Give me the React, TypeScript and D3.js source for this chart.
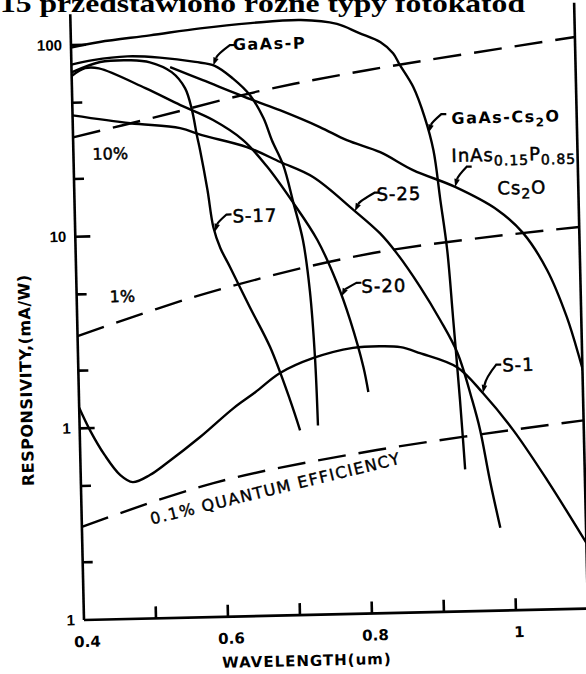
import React from "react"
import * as d3 from "d3"

type Pt = [number, number] // [wavelength um, responsivity mA/W]

const gaAsCs2O: Pt[] = [
  [0.4, 97], [0.44, 103], [0.51, 110], [0.58, 118], [0.65, 124], [0.72, 127],
  [0.77, 120], [0.8, 107], [0.83, 95], [0.847, 83], [0.856, 72], [0.874, 55],
  [0.889, 38], [0.9, 25.6], [0.908, 14.1], [0.916, 7.7], [0.922, 3.4],
  [0.929, 1.27], [0.932, 0.78], [0.934, 0.55],
]
const gaAsP: Pt[] = [
  [0.4, 79], [0.43, 83], [0.478, 86], [0.523, 84], [0.572, 79], [0.599, 75],
  [0.624, 64], [0.647, 52.2], [0.665, 39.5], [0.676, 30.2], [0.691, 22.3],
  [0.704, 14.1], [0.716, 9.0], [0.724, 4.9], [0.729, 2.2], [0.731, 0.97],
]
const s17: Pt[] = [
  [0.4, 72], [0.44, 81], [0.482, 82], [0.509, 79.6], [0.539, 70.3], [0.557, 57.8],
  [0.566, 44.3], [0.572, 32.7], [0.576, 27.3], [0.585, 16.9], [0.592, 10.8],
  [0.601, 8.4], [0.614, 6.65], [0.64, 4.1], [0.667, 2.52], [0.693, 1.33], [0.706, 0.92],
]
const s20: Pt[] = [
  [0.4, 69], [0.419, 75.5], [0.438, 75], [0.502, 58.4], [0.55, 47.2], [0.595, 39.1],
  [0.636, 30.5], [0.669, 21.9], [0.704, 14.1], [0.736, 9.0], [0.762, 5.33],
  [0.779, 3.41], [0.796, 1.93], [0.802, 1.43],
]
const s25: Pt[] = [
  [0.4, 43], [0.48, 38.5], [0.549, 35.8], [0.579, 32.7], [0.641, 28], [0.687, 23.2],
  [0.732, 19.2], [0.787, 12.8], [0.823, 9.6], [0.846, 7.5], [0.877, 5.0], [0.904, 3.33],
  [0.927, 2.23], [0.946, 1.26], [0.956, 0.88], [0.968, 0.48], [0.981, 0.27],
]
const inAsP: Pt[] = [
  [0.537, 74.7], [0.582, 63.3], [0.651, 49.1], [0.688, 43.2], [0.743, 34.9], [0.78, 29.6],
  [0.826, 25.4], [0.871, 20.3], [0.929, 16.4], [0.987, 12.3], [1.022, 9.24], [1.054, 5.9],
  [1.08, 3.33], [1.097, 1.98], [1.105, 1.5],
]
const s1: Pt[] = [
  [0.4, 1.28], [0.414, 0.98], [0.434, 0.72], [0.455, 0.564], [0.472, 0.517], [0.496, 0.56],
  [0.52, 0.644], [0.567, 0.872], [0.614, 1.22], [0.645, 1.47], [0.68, 1.84], [0.726, 2.18],
  [0.782, 2.44], [0.82, 2.47], [0.848, 2.43], [0.875, 2.25], [0.926, 1.88], [0.961, 1.37],
  [1.002, 0.87], [1.048, 0.47], [1.1, 0.22],
]

// quantum efficiency reference lines
const qe10: Pt[] = [[0.4, 33], [0.51, 40.7], [0.66, 54.6], [0.81, 68.2], [1.1, 96]]
const qe1: Pt[] = [[0.4, 3.03], [0.581, 4.9], [0.813, 7.58], [1.1, 9.8]]
const qe01: Pt[] = [[0.4, 0.306], [0.584, 0.5], [0.812, 0.711], [1.1, 0.96]]

const xLabelTicks = [0.4, 0.6, 0.8, 1.0]
const xLabels = ["0.4", "0.6", "0.8", "1"]
const xMinorTicks = [0.5, 0.6, 0.7, 0.8, 0.9, 1.0]
const yMajorTicks = [0.1, 1, 10, 100]
const yLabels = ["1", "1", "10", "100"]
const yMinorTicks = [0.2, 0.5, 2, 5, 20, 50]

const W = 586
const H = 674
const tilt = -1.3

const x = d3.scaleLinear().domain([0.4, 1.1]).range([84, 588])
const y = d3.scaleLog().domain([0.1, 145]).range([620, 14])

const line = d3
  .line<Pt>()
  .x(d => x(d[0]))
  .y(d => y(d[1]))
  .curve(d3.curveCatmullRom.alpha(0.5))

function valueAt(series: Pt[], lam: number) {
  for (let i = 0; i < series.length - 1; i++) {
    const a = series[i]
    const b = series[i + 1]
    if (lam >= a[0] && lam <= b[0]) {
      const t = (lam - a[0]) / (b[0] - a[0])
      return Math.exp(Math.log(a[1]) + t * (Math.log(b[1]) - Math.log(a[1])))
    }
  }
  return series[series.length - 1][1]
}

type Seg = [string, boolean]
const leaders: { series: Pt[]; at: number; ex: number; ey: number; dx: number; dy: number; label: Seg[]; bold: boolean }[] = [
  { series: gaAsP, at: 0.597, ex: 17, ey: -20, dx: 20, dy: -15, label: [["GaAs-P", false]], bold: true },
  { series: gaAsCs2O, at: 0.894, ex: 13, ey: -18, dx: 23, dy: -8, label: [["GaAs-Cs", false], ["2", true], ["O", false]], bold: true },
  { series: inAsP, at: 0.929, ex: 12, ey: -20, dx: -3, dy: -25, label: [["InAs", false], ["0.15", true], ["P", false], ["0.85", true]], bold: false },
  { series: s25, at: 0.789, ex: 20, ey: -18, dx: 22, dy: -10, label: [["S-25", false]], bold: false },
  { series: s20, at: 0.768, ex: 15, ey: -13, dx: 20, dy: -3, label: [["S-20", false]], bold: false },
  { series: s17, at: 0.594, ex: 12, ey: -17, dx: 18, dy: -9, label: [["S-17", false]], bold: false },
  { series: s1, at: 0.961, ex: 14, ey: -28, dx: 20, dy: -21, label: [["S-1", false]], bold: false },
]

function Leader(props: { tx: number; ty: number; ex: number; ey: number }) {
  const { tx, ty, ex, ey } = props
  const E = [tx + ex, ty + ey]
  const C = [tx + 0.25 * ex, ty + 0.55 * ey]
  let dx = tx - C[0]
  let dy = ty - C[1]
  const len = Math.hypot(dx, dy)
  dx /= len
  dy /= len
  const bx = tx - 8 * dx
  const by = ty - 8 * dy
  const head = `M${tx},${ty}L${bx - 2.8 * dy},${by + 2.8 * dx}L${bx + 2.8 * dy},${by - 2.8 * dx}Z`
  return (
    <g>
      <path
        d={`M${E[0] + 5},${E[1]}L${E[0]},${E[1]}Q${C[0]},${C[1]} ${bx},${by}`}
        fill="none"
        stroke="#000"
        strokeWidth={2.2}
      />
      <path d={head} fill="#000" />
    </g>
  )
}

const font = "DejaVu Sans, sans-serif"

export default function App() {
  const curves = [gaAsCs2O, gaAsP, s17, s20, s25, inAsP, s1]
  const dashes = [qe10, qe1, qe01]
  return (
    <svg width={W} height={H} style={{ position: "absolute", left: 0, top: 0, background: "#fff" }}>
      <text
        x={0}
        y={12}
        fontFamily="Liberation Serif, serif"
        fontSize={26}
        fontWeight="bold"
        textLength={525}
        lengthAdjust="spacingAndGlyphs"
      >
        15 przedstawiono różne typy fotokatod
      </text>
      <defs>
        <clipPath id="plot">
          <rect x={x(0.4)} y={0} width={x(1.1) - x(0.4)} height={y(0.1)} />
        </clipPath>
      </defs>
      <g transform={`rotate(${tilt} ${x(0.4)} ${y(0.1)})`}>
        {/* frame */}
        <g stroke="#000" strokeWidth={2.6} fill="none">
          <line x1={x(0.4)} x2={x(0.4)} y1={y(0.1)} y2={y(145)} />
          <line x1={x(0.4)} x2={x(1.1)} y1={y(0.1)} y2={y(0.1)} />
          <line x1={x(1.1)} x2={x(1.1)} y1={y(0.1)} y2={y(145)} />
          {yMajorTicks.slice(1).map(v => (
            <line key={v} x1={x(0.4)} x2={x(0.4) + 15} y1={y(v)} y2={y(v)} />
          ))}
          {yMinorTicks.map(v => (
            <line key={v} x1={x(0.4)} x2={x(0.4) + 10} y1={y(v)} y2={y(v)} />
          ))}
          {xMinorTicks.map(v => (
            <line key={v} x1={x(v)} x2={x(v)} y1={y(0.1)} y2={y(0.1) - 12} />
          ))}
        </g>
        {/* tick labels */}
        {yMajorTicks.map((v, i) => (
          <text
            key={v}
            x={x(0.4) - 9}
            y={y(v) + 5}
            textAnchor="end"
            fontFamily="Liberation Sans, sans-serif"
            fontWeight="bold"
            fontSize={15}
          >
            {yLabels[i]}
          </text>
        ))}
        {xLabelTicks.map((v, i) => (
          <text
            key={v}
            x={x(v) + 3}
            y={y(0.1) + 27}
            textAnchor="middle"
            fontFamily={font}
            fontWeight="bold"
            fontSize={15}
          >
            {xLabels[i]}
          </text>
        ))}
        <g clipPath="url(#plot)" fill="none" stroke="#000">
          {dashes.map((d, i) => (
            <path key={i} d={line(d) || ""} strokeWidth={2.4} strokeDasharray="28 13" />
          ))}
          {curves.map((d, i) => (
            <path key={i} d={line(d) || ""} strokeWidth={2.4} />
          ))}
        </g>
        {leaders.map((l, i) => {
          const tx = x(l.at)
          const ty = y(valueAt(l.series, l.at))
          return (
            <g key={i}>
              <Leader tx={tx} ty={ty} ex={l.ex} ey={l.ey} />
              <text
                x={tx + l.dx}
                y={ty + l.dy}
                fontFamily={font}
                fontWeight={l.bold ? "bold" : "normal"}
                fontSize={l.bold ? 16 : 18}
                letterSpacing={l.bold ? 1.5 : 1}
                stroke="#000"
                strokeWidth={l.bold ? 0 : 0.5}
              >
                {l.label.map((s, j) =>
                  s[1] ? (
                    <tspan key={j} dy={4.5} fontSize={l.bold ? 12 : 14}>
                      {s[0]}
                    </tspan>
                  ) : (
                    <tspan key={j} dy={j > 0 ? -4.5 : 0}>
                      {s[0]}
                    </tspan>
                  )
                )}
              </text>
            </g>
          )
        })}
        <text x={507} y={204} fontFamily={font} fontSize={18} letterSpacing={1} stroke="#000" strokeWidth={0.5}>
          Cs<tspan dy={4.5} fontSize={14}>2</tspan>
          <tspan dy={-4.5}>O</tspan>
        </text>
        <text x={103} y={160} fontFamily={font} fontSize={16} stroke="#000" strokeWidth={0.5}>
          10%
        </text>
        <text x={117} y={303} fontFamily={font} fontSize={16} stroke="#000" strokeWidth={0.5}>
          1%
        </text>
        <text
          transform="translate(154,526) rotate(-12.4)"
          fontFamily={font}
          fontSize={16}
          letterSpacing={1.4}
          stroke="#000"
          strokeWidth={0.4}
        >
          0.1% QUANTUM EFFICIENCY
        </text>
        <text
          transform="translate(37,379) rotate(-90)"
          textAnchor="middle"
          fontFamily={font}
          fontWeight="bold"
          fontSize={16}
          letterSpacing={0.5}
        >
          RESPONSIVITY,(mA/W)
        </text>
        <text x={306} y={671} textAnchor="middle" fontFamily={font} fontWeight="bold" fontSize={15} letterSpacing={1}>
          WAVELENGTH(um)
        </text>
      </g>
    </svg>
  )
}
